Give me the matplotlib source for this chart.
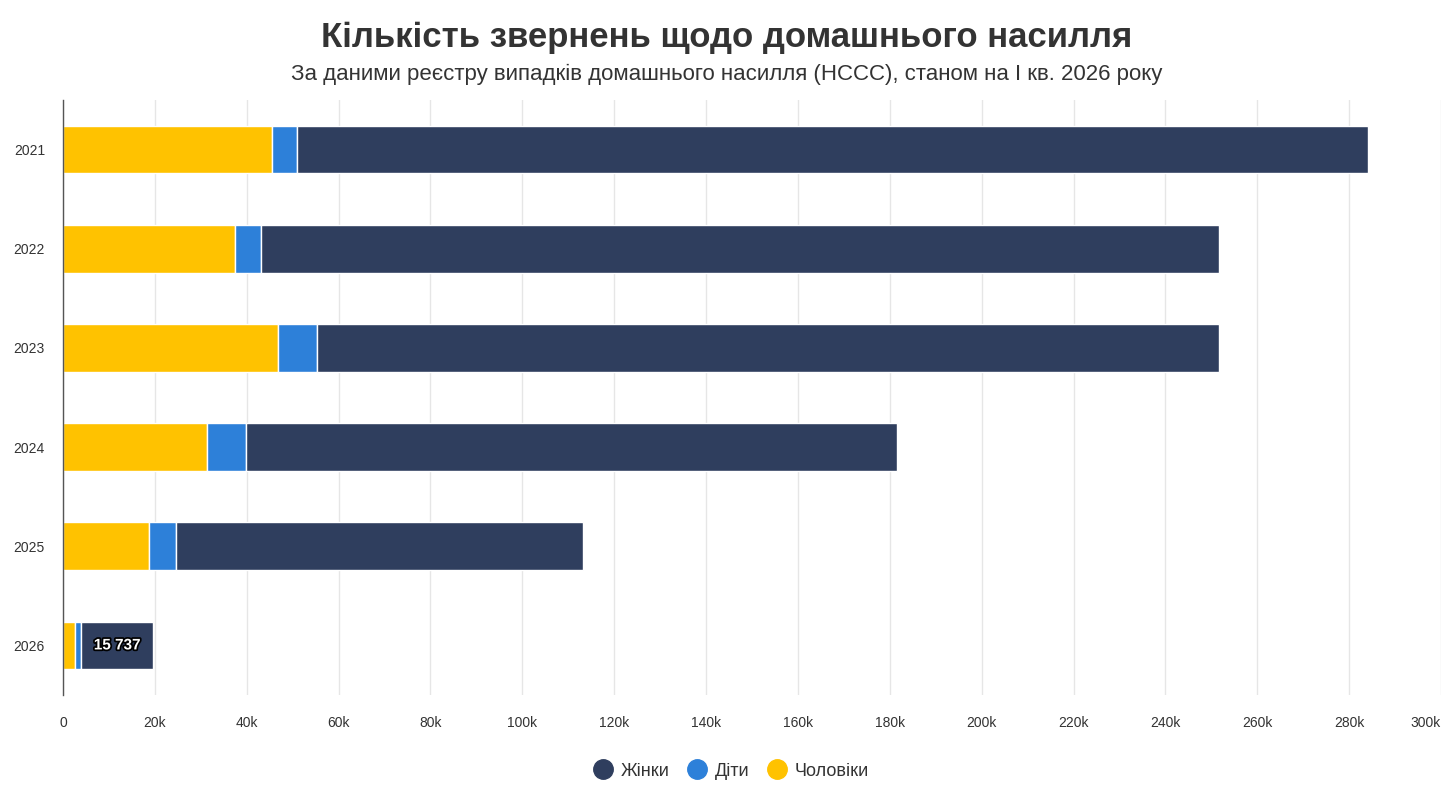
import matplotlib
matplotlib.use("Agg")
import matplotlib.pyplot as plt
import matplotlib.patheffects as pe
from matplotlib.lines import Line2D
from matplotlib.ticker import FixedLocator

plt.rcParams['font.family'] = ['Liberation Sans', 'DejaVu Sans']

years = ["2021", "2022", "2023", "2024", "2025", "2026"]
men = [45500, 37400, 46700, 31300, 18700, 2700]
children = [5400, 5700, 8700, 8600, 5800, 1200]
women = [233100, 208600, 196300, 141700, 88700, 15737]
series_names = ["Жінки", "Діти", "Чоловіки"]
colors = {"Жінки": "#2f3e5e", "Діти": "#2d80d9", "Чоловіки": "#ffc200"}
xticks = list(range(0, 300001, 20000))
xtick_labels = ["0"] + [f"{v // 1000}k" for v in xticks[1:]]

fig = plt.figure(figsize=(14.54, 7.92), dpi=100)
ax = fig.add_axes([63 / 1454, 1 - 695 / 792, (1441 - 63) / 1454, 595 / 792])

ypos = list(range(len(years)))
h = 0.48
ax.barh(ypos, men, height=h, color=colors["Чоловіки"], edgecolor="white", linewidth=1, zorder=3)
left2 = men
ax.barh(ypos, children, left=left2, height=h, color=colors["Діти"], edgecolor="white", linewidth=1, zorder=3)
left3 = [m + c for m, c in zip(men, children)]
ax.barh(ypos, women, left=left3, height=h, color=colors["Жінки"], edgecolor="white", linewidth=1, zorder=3)

# data label for last year
i = len(years) - 1
ax.text(left3[i] + women[i] / 2, ypos[i], "15 737", ha="center", va="center",
        color="white", fontsize=11, fontweight="bold", zorder=5,
        path_effects=[pe.withStroke(linewidth=2.5, foreground="black")])

ax.set_xlim(0, 300000)
ax.set_ylim(len(years) - 0.5, -0.5)
ax.set_yticks(ypos)
ax.set_yticklabels(years, fontsize=10, color="#333333")
ax.xaxis.set_major_locator(FixedLocator(xticks))
ax.set_xticklabels(xtick_labels, fontsize=10, color="#333333")
ax.get_xticklabels()[-1].set_horizontalalignment("right")
ax.tick_params(axis="y", length=0, pad=13)
ax.tick_params(axis="x", length=0, pad=15)
ax.grid(axis="x", color="#e6e6e6", linewidth=1, zorder=0)
for s in ["top", "right", "bottom"]:
    ax.spines[s].set_visible(False)
ax.spines["left"].set_color("#555555")
ax.spines["left"].set_linewidth(1)
ax.spines["left"].set_zorder(6)

fig.text(0.5, 1 - 38 / 792, "Кількість звернень щодо домашнього насилля", ha="center", va="center",
         fontsize=25, fontweight="bold", color="#333333")
fig.text(0.5, 1 - 74 / 792, "За даними реєстру випадків домашнього насилля (НССС), станом на І кв. 2026 року",
         ha="center", va="center", fontsize=16, color="#333333")

handles = [Line2D([0], [0], marker="o", linestyle="", markersize=14, markerfacecolor=colors[n],
                  markeredgecolor=colors[n], label=n) for n in series_names]
fig.legend(handles=handles, loc="center", bbox_to_anchor=(0.5, 1 - 771 / 792), ncol=3, frameon=False,
           fontsize=13, handletextpad=0.0, columnspacing=0.5, labelcolor="#333333")

fig.savefig("out.png", dpi=100)
